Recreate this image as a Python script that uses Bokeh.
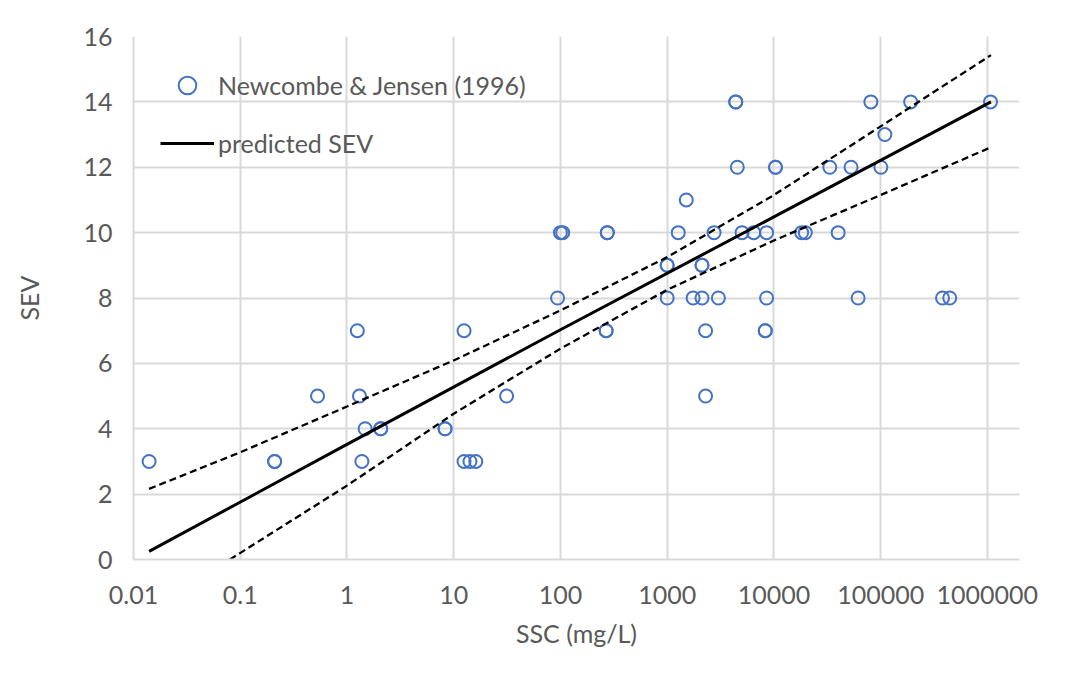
from bokeh.plotting import figure
from bokeh.models import FixedTicker, Legend, LegendItem, Range1d
from bokeh.embed import file_html
from bokeh.resources import INLINE

# ---- data ----
ssc = [0.014, 0.21, 0.21, 1.38, 12.5, 14.2, 16.1,
       1.48, 2.07, 2.07, 8.3, 8.3,
       0.53, 1.31, 31.3, 2290,
       1.25, 12.5, 268, 268, 2290, 8300, 8300,
       94, 1000, 1750, 2120, 3020, 8540, 61500, 380000, 444000,
       1000, 1000, 2120, 2120,
       100, 105, 275, 275, 1270, 2750, 5030, 6470, 8540, 18200, 19700, 40000,
       1510,
       4540, 10350, 10350, 33400, 52800, 100500,
       109500,
       4390, 4390, 81000, 191000, 1070000]
sev = [3, 3, 3, 3, 3, 3, 3,
       4, 4, 4, 4, 4,
       5, 5, 5, 5,
       7, 7, 7, 7, 7, 7, 7,
       8, 8, 8, 8, 8, 8, 8, 8, 8,
       9, 9, 9, 9,
       10, 10, 10, 10, 10, 10, 10, 10, 10, 10, 10, 10,
       11,
       12, 12, 12, 12, 12, 12,
       13,
       14, 14, 14, 14, 14]

pred_x = [0.014, 1, 100, 10000, 1080000]
pred_y = [0.25, 3.52, 7.03, 10.48, 14.0]

upper_x = [0.014, 0.1, 1, 10, 100, 1000, 10000, 100000, 1080000]
upper_y = [2.16, 3.28, 4.68, 6.09, 7.62, 9.25, 11.15, 13.25, 15.43]

lower_x = [0.08, 1, 10, 100, 1000, 10000, 100000, 1080000]
lower_y = [0.0, 2.26, 4.46, 6.45, 8.25, 9.76, 11.15, 12.61]

x_ticks = [0.01, 0.1, 1, 10, 100, 1000, 10000, 100000, 1000000]
x_tick_labels = ["0.01", "0.1", "1", "10", "100", "1000", "10000", "100000", "1000000"]
y_ticks = [0, 2, 4, 6, 8, 10, 12, 14, 16]

FONT = "Lato"
TXT = "#595959"
GRID = "#d9d9d9"
BLUE = "#4472C4"

p = figure(x_axis_type="log", output_backend="svg", toolbar_location=None,
           frame_width=886, frame_height=523,
           min_border_left=133, min_border_top=36, min_border_right=52, min_border_bottom=96,
           x_range=Range1d(0.01, 2.0e6), y_range=Range1d(0, 16))
p.outline_line_color = None
p.background_fill_color = "white"
p.border_fill_color = "white"

r_sc = p.scatter(ssc, sev, marker="circle", size=13, fill_color=None,
                 line_color=BLUE, line_width=2)
r_pred = p.line(pred_x, pred_y, line_color="black", line_width=3)
p.line(upper_x, upper_y, line_color="black", line_width=2.3, line_dash="7 4")
p.line(lower_x, lower_y, line_color="black", line_width=2.3, line_dash="7 4")

# axes
p.xaxis.ticker = FixedTicker(ticks=x_ticks)
p.xaxis.major_label_overrides = {t: l for t, l in zip(x_ticks, x_tick_labels)}
p.yaxis.ticker = FixedTicker(ticks=y_ticks)
for ax in (p.xaxis[0], p.yaxis[0]):
    ax.axis_line_color = GRID
    ax.axis_line_width = 2
    ax.major_tick_line_color = None
    ax.minor_tick_line_color = None
    ax.major_label_text_font = FONT
    ax.major_label_text_font_size = "25px"
    ax.major_label_text_color = TXT
    ax.axis_label_text_font = FONT
    ax.axis_label_text_font_size = "25px"
    ax.axis_label_text_color = TXT
    ax.axis_label_text_font_style = "normal"
p.xaxis.axis_label = "SSC (mg/L)"
p.yaxis.axis_label = "SEV"
p.xaxis.major_label_standoff = 20
p.yaxis.major_label_standoff = 15
p.xaxis.axis_label_standoff = 11
p.yaxis.axis_label_standoff = 36

p.xgrid.grid_line_color = GRID
p.ygrid.grid_line_color = GRID
p.xgrid.grid_line_width = 2
p.ygrid.grid_line_width = 2

legend = Legend(items=[LegendItem(label="Newcombe & Jensen (1996)", renderers=[r_sc]),
                       LegendItem(label="predicted SEV", renderers=[r_pred])],
                location="top_left", margin=27, padding=0, spacing=14,
                glyph_width=54, glyph_height=44, label_height=44, label_standoff=4,
                label_text_font=FONT, label_text_font_size="25px", label_text_color=TXT,
                background_fill_alpha=0, border_line_color=None)
p.add_layout(legend)

open("out.html", "w").write(file_html(p, INLINE))
